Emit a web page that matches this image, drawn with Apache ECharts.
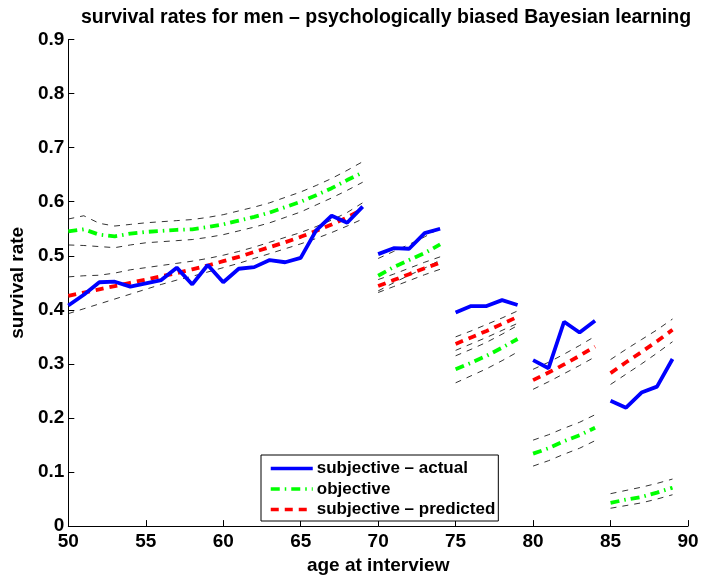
<!DOCTYPE html>
<html><head><meta charset="utf-8">
<script src="https://cdn.jsdelivr.net/npm/echarts@6/dist/echarts.min.js"></script>
<style>html,body{margin:0;padding:0;background:#fff}#c{width:702px;height:580px}</style>
</head><body><div id="c"></div>
<script>
// segment start ages (each segment spans consecutive ages)
const segStarts = [50, 70, 75, 80, 85];
const xTicks = [50, 55, 60, 65, 70, 75, 80, 85, 90];
const yTicks = [0, 0.1, 0.2, 0.3, 0.4, 0.5, 0.6, 0.7, 0.8, 0.9];

// subjective - actual
const actual = [
  [0.408,0.428,0.451,0.452,0.443,0.449,0.455,0.478,0.447,0.483,0.451,0.476,0.479,0.492,0.488,0.496,0.547,0.574,0.561,0.591],
  [0.503,0.514,0.513,0.542,0.55],
  [0.395,0.407,0.407,0.418,0.409],
  [0.307,0.292,0.378,0.358,0.38],
  [0.232,0.219,0.247,0.258,0.309]
];
// objective
const objective = [
  [0.545,0.549,0.539,0.536,0.541,0.544,0.546,0.548,0.549,0.553,0.558,0.565,0.572,0.580,0.590,0.600,0.612,0.625,0.640,0.654],
  [0.463,0.479,0.492,0.505,0.521],
  [0.290,0.302,0.315,0.330,0.346],
  [0.134,0.144,0.157,0.168,0.182],
  [0.043,0.049,0.054,0.062,0.071]
];
const objectiveUpper = [
  [0.568,0.574,0.560,0.555,0.558,0.561,0.563,0.565,0.567,0.571,0.576,0.583,0.590,0.598,0.608,0.618,0.630,0.643,0.658,0.674],
  [0.495,0.508,0.521,0.535,0.551],
  [0.315,0.327,0.340,0.355,0.371],
  [0.159,0.169,0.181,0.192,0.206],
  [0.060,0.066,0.072,0.079,0.087]
];
const objectiveLower = [
  [0.520,0.519,0.517,0.515,0.520,0.524,0.526,0.528,0.530,0.534,0.539,0.546,0.553,0.561,0.571,0.581,0.594,0.607,0.621,0.636],
  [0.435,0.450,0.464,0.477,0.492],
  [0.265,0.278,0.291,0.306,0.322],
  [0.111,0.121,0.133,0.144,0.158],
  [0.033,0.038,0.043,0.050,0.058]
];
// subjective - predicted
const predicted = [
  [0.426,0.432,0.438,0.444,0.450,0.456,0.462,0.468,0.475,0.482,0.490,0.498,0.507,0.516,0.525,0.535,0.546,0.558,0.571,0.586],
  [0.444,0.455,0.466,0.477,0.487],
  [0.337,0.349,0.361,0.374,0.387],
  [0.270,0.284,0.299,0.315,0.332],
  [0.283,0.303,0.322,0.342,0.363]
];
const predictedUpper = [
  [0.461,0.463,0.464,0.468,0.474,0.478,0.482,0.486,0.490,0.495,0.501,0.508,0.516,0.525,0.534,0.543,0.554,0.566,0.580,0.598],
  [0.456,0.466,0.477,0.488,0.498],
  [0.350,0.361,0.373,0.385,0.398],
  [0.290,0.303,0.318,0.334,0.351],
  [0.308,0.327,0.345,0.363,0.383]
];
const predictedLower = [
  [0.393,0.402,0.411,0.420,0.429,0.438,0.447,0.455,0.462,0.470,0.478,0.486,0.495,0.504,0.513,0.522,0.532,0.543,0.555,0.568],
  [0.432,0.443,0.454,0.465,0.475],
  [0.325,0.337,0.349,0.362,0.375],
  [0.253,0.267,0.282,0.297,0.313],
  [0.262,0.281,0.300,0.320,0.341]
];

function build(segs) {
  const out = [];
  segs.forEach((vals, s) => {
    if (s > 0) out.push([segStarts[s] - 0.5, null]);
    vals.forEach((v, i) => out.push([segStarts[s] + i, v]));
  });
  return out;
}

const FONT = 'Liberation Sans';
const FS = 19;
const chart = echarts.init(document.getElementById('c'), null, {renderer: 'canvas'});

function band(data) {
  return {
    type: 'line', data: build(data), symbol: 'none', silent: true, connectNulls: false,
    lineStyle: {color: '#000', width: 0.8, type: [6, 6]}, z: 1, legendHoverLink: false
  };
}

chart.setOption({
  animation: false,
  backgroundColor: '#fff',
  title: {
    text: 'survival rates for men \u2013 psychologically biased Bayesian learning',
    left: 381, top: 3, textAlign: 'center',
    textStyle: {fontFamily: FONT, fontWeight: 'bold', fontSize: 19.5, color: '#000'}
  },
  grid: {left: 68, right: 14, top: 39.5, bottom: 52.5},
  legend: {
    orient: 'vertical', left: 261, top: 455,
    backgroundColor: '#fff', borderColor: '#000', borderWidth: 1,
    padding: [5, 3, 3, 8], itemGap: 3.5, itemWidth: 42, itemHeight: 14,
    itemStyle: {opacity: 0},
    lineStyle: {width: 3.5},
    textStyle: {fontFamily: FONT, fontWeight: 'bold', fontSize: 17, lineHeight: 17, color: '#000', padding: [0, 0, 0, -1]},
    data: ['subjective \u2013 actual', 'objective', 'subjective \u2013 predicted']
  },
  xAxis: {
    type: 'value', min: 50, max: 90, interval: 5,
    name: 'age at interview', nameLocation: 'middle', nameGap: 27,
    nameTextStyle: {fontFamily: FONT, fontWeight: 'bold', fontSize: FS, color: '#000'},
    axisLine: {lineStyle: {color: '#000', width: 1}},
    axisTick: {inside: true, length: 6, lineStyle: {color: '#000'}},
    axisLabel: {fontFamily: FONT, fontWeight: 'bold', fontSize: FS, color: '#000', margin: 6,
      formatter: v => xTicks.includes(v) ? String(v) : ''},
    splitLine: {show: false}
  },
  yAxis: {
    type: 'value', min: 0, max: 0.9, interval: 0.1,
    name: 'survival rate', nameLocation: 'middle', nameGap: 37, nameRotate: 90,
    nameTextStyle: {fontFamily: FONT, fontWeight: 'bold', fontSize: FS, color: '#000'},
    axisLine: {show: true, lineStyle: {color: '#000', width: 1}},
    axisTick: {show: true, inside: true, length: 6, lineStyle: {color: '#000'}},
    axisLabel: {fontFamily: FONT, fontWeight: 'bold', fontSize: FS, color: '#000', margin: 4,
      formatter: v => { const t = yTicks.find(x => Math.abs(x - v) < 1e-9); return t === undefined ? '' : (t === 0 ? '0' : t.toFixed(1)); }},
    splitLine: {show: false}
  },
  series: [
    band(objectiveUpper), band(objectiveLower), band(predictedUpper), band(predictedLower),
    {name: 'objective', type: 'line', data: build(objective), symbol: 'none', connectNulls: false,
      lineStyle: {color: '#00ff00', width: 3.8, type: [9, 5, 1.5, 5]}, itemStyle: {color: '#00ff00'}, z: 3},
    {name: 'subjective \u2013 predicted', type: 'line', data: build(predicted), symbol: 'none', connectNulls: false,
      lineStyle: {color: '#ff0000', width: 3.8, type: [8, 6]}, itemStyle: {color: '#ff0000'}, z: 4},
    {name: 'subjective \u2013 actual', type: 'line', data: build(actual), symbol: 'none', connectNulls: false,
      lineStyle: {color: '#0000ff', width: 3.8}, itemStyle: {color: '#0000ff'}, z: 5}
  ]
});
</script></body></html>
